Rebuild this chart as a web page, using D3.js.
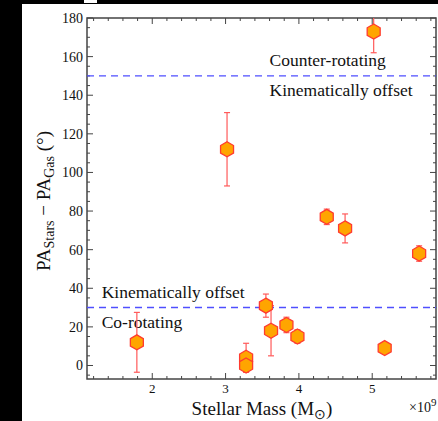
<!DOCTYPE html>
<html><head><meta charset="utf-8">
<script src="https://cdn.jsdelivr.net/npm/d3@7"></script>
<style>
html,body{margin:0;padding:0;background:#000;}
svg{display:block;}
text{font-family:"Liberation Serif","Times New Roman",serif;fill:#111;}
</style></head>
<body>
<script>
// ---- data ----
const mass    = [1.79, 3.02, 5.02, 4.38, 4.63, 5.64, 3.28, 3.28, 3.55, 3.62, 3.83, 3.98, 5.17];
const paDiff  = [12, 112, 173, 77, 71, 58, 4, 0, 31, 18, 21, 15, 9];
const paErr   = [15.5, 19, 11, 4, 7.5, 4, 7.5, 3.5, 6, 13, 4, 3.5, 2];
const xTicks  = [2, 3, 4, 5];
const yTicks  = [0, 20, 40, 60, 80, 100, 120, 140, 160, 180];
const lines   = [150, 30];
const regionLabels = [
  {text:"Counter-rotating", yv:150, side:"above", xv:3.6},
  {text:"Kinematically offset", yv:150, side:"below", xv:3.6},
  {text:"Kinematically offset", yv:30, side:"above", xv:1.31},
  {text:"Co-rotating", yv:30, side:"below", xv:1.31}
];

const W=438,H=421;
const svg=d3.select("body").append("svg").attr("width",W).attr("height",H);
svg.append("rect").attr("width",W).attr("height",H).attr("fill","#000");
svg.append("rect").attr("x",22).attr("y",4).attr("width",W-22).attr("height",H-4).attr("fill","#fff");
svg.append("rect").attr("x",84).attr("y",0).attr("width",13).attr("height",3).attr("fill","#fff");

const L=87,R=436,T=18,B=379;
const x=d3.scaleLinear().domain([1.11,5.87]).range([L,R]);
const y=d3.scaleLinear().domain([-7,180]).range([B,T]);

const frameCol="#444";
const xMinor=d3.range(1.2,5.87,0.2).filter(v=>Math.abs(v-Math.round(v))>1e-6);
const yMinor=d3.range(-5,181,5).filter(v=>v%20!==0);
const tg=svg.append("g").attr("stroke",frameCol).attr("stroke-width",1);
xTicks.forEach(v=>{
  tg.append("line").attr("x1",x(v)).attr("x2",x(v)).attr("y1",B).attr("y2",B-6);
  tg.append("line").attr("x1",x(v)).attr("x2",x(v)).attr("y1",T).attr("y2",T+6);
});
xMinor.forEach(v=>{
  tg.append("line").attr("x1",x(v)).attr("x2",x(v)).attr("y1",B).attr("y2",B-3);
  tg.append("line").attr("x1",x(v)).attr("x2",x(v)).attr("y1",T).attr("y2",T+3);
});
yTicks.forEach(v=>{
  tg.append("line").attr("y1",y(v)).attr("y2",y(v)).attr("x1",L).attr("x2",L+6);
  tg.append("line").attr("y1",y(v)).attr("y2",y(v)).attr("x1",R).attr("x2",R-6);
});
yMinor.forEach(v=>{
  tg.append("line").attr("y1",y(v)).attr("y2",y(v)).attr("x1",L).attr("x2",L+3);
  tg.append("line").attr("y1",y(v)).attr("y2",y(v)).attr("x1",R).attr("x2",R-3);
});
svg.append("rect").attr("x",L).attr("y",T).attr("width",R-L).attr("height",B-T)
  .attr("fill","none").attr("stroke",frameCol).attr("stroke-width",1.5);

// tick labels
svg.append("g").selectAll("text").data(xTicks).join("text")
  .attr("x",d=>x(d)).attr("y",B+14).attr("text-anchor","middle").attr("font-size",13).text(d=>d);
svg.append("g").selectAll("text").data(yTicks).join("text")
  .attr("x",L-4).attr("y",d=>y(d)+5).attr("text-anchor","end").attr("font-size",14).text(d=>d);

// dashed lines
svg.append("g").selectAll("line").data(lines).join("line")
  .attr("x1",L).attr("x2",R).attr("y1",d=>y(d)).attr("y2",d=>y(d))
  .attr("stroke","#4f4fff").attr("stroke-width",1.4).attr("stroke-dasharray","7,5");

// region labels
svg.append("g").selectAll("text").data(regionLabels).join("text")
  .attr("x",d=>x(d.xv)).attr("y",d=>d.side==="above"?y(d.yv)-10:y(d.yv)+20)
  .attr("font-size",17.5).text(d=>d.text);

// plot clip
svg.append("clipPath").attr("id","clip").append("rect").attr("x",L).attr("y",T).attr("width",R-L).attr("height",B-T);
const pg=svg.append("g").attr("clip-path","url(#clip)");
const idx=d3.range(mass.length);
const eb=pg.append("g").attr("stroke","#ff5a5a").attr("stroke-width",1.2);
idx.forEach(i=>{
  const cx=x(mass[i]), y1=y(paDiff[i]+paErr[i]), y2=y(paDiff[i]-paErr[i]);
  eb.append("line").attr("x1",cx).attr("x2",cx).attr("y1",y1).attr("y2",y2);
  eb.append("line").attr("x1",cx-3).attr("x2",cx+3).attr("y1",y1).attr("y2",y1);
  eb.append("line").attr("x1",cx-3).attr("x2",cx+3).attr("y1",y2).attr("y2",y2);
});
const r=7.5;
const hexPts=d3.range(6).map(k=>{const a=Math.PI/3*k-Math.PI/2;return [r*Math.cos(a),r*Math.sin(a)];});
const hexPath=d3.line()(hexPts)+"Z";
pg.append("g").selectAll("path").data(idx).join("path")
  .attr("d",hexPath).attr("transform",i=>`translate(${x(mass[i])},${y(paDiff[i])})`)
  .attr("fill","#ffa500").attr("stroke","#ff3b2f").attr("stroke-width",1.3);

// axis labels
const xl=svg.append("text").attr("x",262).attr("y",415).attr("text-anchor","middle").attr("font-size",19);
xl.append("tspan").text("Stellar Mass (M");
xl.append("tspan").attr("font-size",14).attr("dy",4).text("⊙");
xl.append("tspan").attr("dy",-4).text(")");

const xm=svg.append("text").attr("x",409).attr("y",412).attr("font-size",14);
xm.append("tspan").text("×10");
xm.append("tspan").attr("font-size",11).attr("dy",-6).text("9");

const yl=svg.append("text").attr("transform","translate(50,201) rotate(-90)").attr("text-anchor","middle").attr("font-size",19);
yl.append("tspan").text("PA");
yl.append("tspan").attr("font-size",14).attr("dy",4).text("Stars");
yl.append("tspan").attr("dy",-4).text(" − PA");
yl.append("tspan").attr("font-size",14).attr("dy",4).text("Gas");
yl.append("tspan").attr("dy",-4).text(" (°)");
</script>
</body></html>
